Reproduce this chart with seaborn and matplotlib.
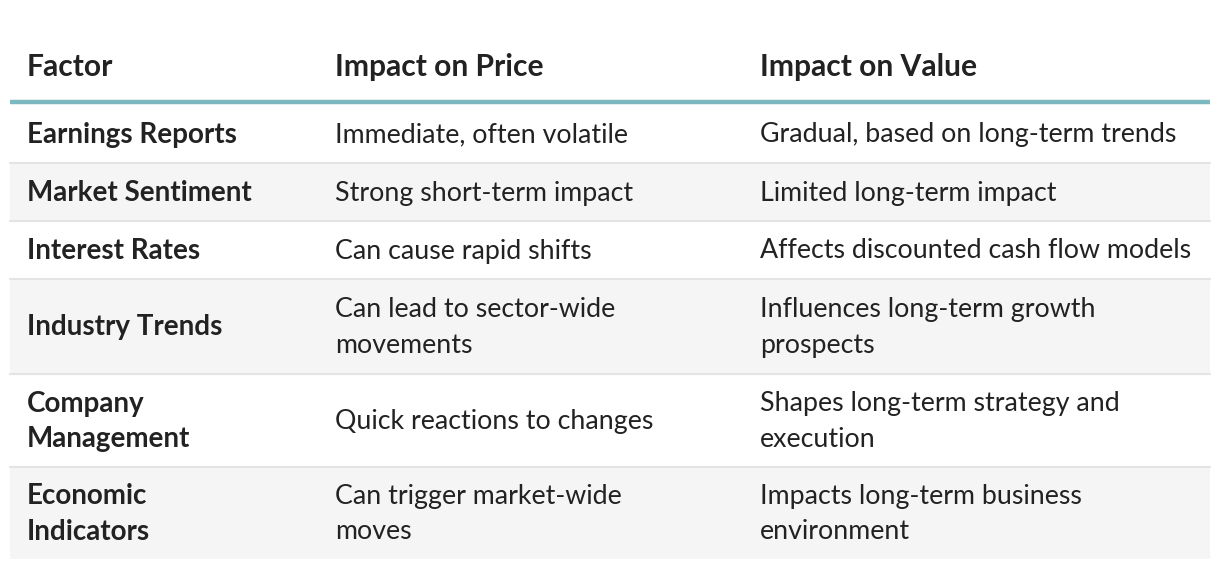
import seaborn as sns
import matplotlib.pyplot as plt

# table content
headers = ["Factor", "Impact on Price", "Impact on Value"]
factors = ["Earnings Reports", "Market Sentiment", "Interest Rates", "Industry Trends",
           "Company\nManagement", "Economic\nIndicators"]
price_impact = ["Immediate, often volatile", "Strong short-term impact", "Can cause rapid shifts",
                "Can lead to sector-wide\nmovements", "Quick reactions to changes",
                "Can trigger market-wide\nmoves"]
value_impact = ["Gradual, based on long-term trends", "Limited long-term impact",
                "Affects discounted cash flow models", "Influences long-term growth\nprospects",
                "Shapes long-term strategy and\nexecution", "Impacts long-term business\nenvironment"]

sns.set_theme(style="white")
plt.rcParams["font.family"] = ["Lato", "DejaVu Sans"]

W, H = 1220, 570
fig = plt.figure(figsize=(W / 100, H / 100), dpi=100)
ax = fig.add_axes([0, 0, 1, 1])
ax.set_xlim(0, W)
ax.set_ylim(H, 0)
ax.axis("off")

left, right = 10, 1210
col_x = [27, 335, 760]
row_edges = [104, 163, 221, 279, 374, 467, 559]
text_color = "#222222"
fs_body = 19.3
fs_bold = 20.0
fs_head = 21.6

# header
for x, h in zip(col_x, headers):
    ax.text(x, 67, h, fontsize=fs_head, fontweight="bold", color=text_color, va="center", ha="left")
ax.plot([left, right], [102, 102], color="#7db8c0", lw=3.2, solid_capstyle="butt")

for i, row in enumerate(zip(factors, price_impact, value_impact)):
    top, bot = row_edges[i], row_edges[i + 1]
    if i % 2 == 1:
        ax.fill_between([left, right], top, bot, color="#f5f5f5", lw=0)
    if i < len(factors) - 1:
        ax.plot([left, right], [bot, bot], color="#e4e4e4", lw=1.5)
    yc = (top + bot) / 2 + 1
    for j, (x, t) in enumerate(zip(col_x, row)):
        ax.text(x, yc, t, fontsize=fs_bold if j == 0 else fs_body,
                fontweight="bold" if j == 0 else "normal",
                color=text_color, va="center", ha="left",
                linespacing=1.46 if j == 0 else 1.53)

fig.savefig("out.png", dpi=100)
